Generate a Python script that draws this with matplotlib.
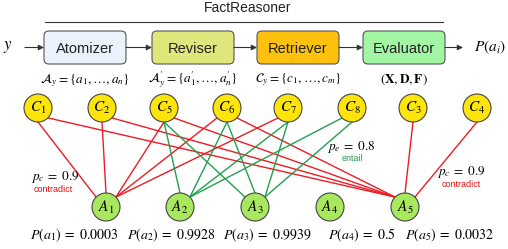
import matplotlib.pyplot as plt
from matplotlib.patches import Circle, FancyBboxPatch

plt.rcParams['mathtext.fontset'] = 'stix'
plt.rcParams['font.family'] = ['Liberation Sans', 'DejaVu Sans']

# pipeline stages
stages = ['Atomizer', 'Reviser', 'Retriever', 'Evaluator']
stage_notes = [r'$\mathcal{A}_y=\{a_1,\ldots,a_n\}$',
               r'$\mathcal{A}^{\prime}_y=\{a^{\prime}_1,\ldots,a^{\prime}_n\}$',
               r'$\mathcal{C}_y=\{c_1,\ldots,c_m\}$',
               r'$(\mathbf{X},\mathbf{D},\mathbf{F})$']
stage_colors = ['#eaf2fb', '#dfe67c', '#fec10e', '#a2f5a2']

# graph nodes
contexts = ['C1', 'C2', 'C5', 'C6', 'C7', 'C8', 'C3', 'C4']
atoms = ['A1', 'A2', 'A3', 'A4', 'A5']
probs = ['0.0003', '0.9928', '0.9939', '0.5', '0.0032']

# relations (context, atom)
contradict = [('C1', 'A1'), ('C2', 'A1'), ('C5', 'A1'), ('C6', 'A1'), ('C7', 'A1'),
              ('C1', 'A5'), ('C2', 'A5'), ('C5', 'A5'), ('C6', 'A5'),
              ('C3', 'A5'), ('C4', 'A5')]
entail = [('C5', 'A2'), ('C5', 'A3'), ('C6', 'A2'), ('C6', 'A3'),
          ('C7', 'A2'), ('C7', 'A3'), ('C8', 'A2'), ('C8', 'A3')]

# layout (pixel space)
W, H = 508, 249
R = 14
ctx_x = [38, 102, 164, 227, 288, 352, 413, 477]
atom_x = [106, 180, 255, 330, 405]
ctx_y, atom_y = 108, 207
box_x = [44, 152, 257, 363]
box_w, box_h, box_y = 82, 33, 31
prob_x = [74, 171, 267, 362, 449]

pos = {n: (x, ctx_y) for n, x in zip(contexts, ctx_x)}
pos.update({n: (x, atom_y) for n, x in zip(atoms, atom_x)})

fig = plt.figure(figsize=(W / 100, H / 100), dpi=100)
ax = fig.add_axes([0, 0, 1, 1])
ax.set_xlim(0, W)
ax.set_ylim(H, 0)
ax.axis('off')

# title
ax.text(248, 8, 'FactReasoner', ha='center', va='center', fontsize=10, color='#222')
ax.plot([45, 443], [22, 22], color='#333', lw=0.8)

arrow_kw = dict(arrowstyle='-|>', color='#333', lw=0.8, mutation_scale=8,
                shrinkA=0, shrinkB=0)

# pipeline boxes
for i, (name, note, col) in enumerate(zip(stages, stage_notes, stage_colors)):
    x0 = box_x[i]
    ax.add_patch(FancyBboxPatch((x0, box_y), box_w, box_h,
                                boxstyle='round,pad=0,rounding_size=5',
                                fc=col, ec='#555', lw=0.8))
    ax.text(x0 + box_w / 2, box_y + box_h / 2 + 1, name, ha='center', va='center',
            fontsize=10.5, color='#222')
    ax.text(x0 + box_w / 2, 80, note, ha='center', va='center', fontsize=9.5)
    if i < len(stages) - 1:
        ax.annotate('', xy=(box_x[i + 1], box_y + box_h / 2),
                    xytext=(x0 + box_w, box_y + box_h / 2), arrowprops=arrow_kw)

ax.text(8, 47, r'$y$', ha='center', va='center', fontsize=12)
ax.annotate('', xy=(box_x[0], 47.5), xytext=(25, 47.5), arrowprops=arrow_kw)
ax.annotate('', xy=(463, 47.5), xytext=(box_x[-1] + box_w, 47.5), arrowprops=arrow_kw)
ax.text(490, 47, r'$P(a_i)$', ha='center', va='center', fontsize=11)


def anchors(c, a):
    (cx, cy), (tx, ty) = pos[c], pos[a]
    dx = tx - cx
    d = R * 0.7071
    if dx > 150:
        p0 = (cx + d, cy + d)
    elif dx < -115:
        p0 = (cx - d, cy + d)
    else:
        p0 = (cx, cy + R)
    if abs(dx) < 30:
        p1 = (tx, ty - R)
    elif dx > 0:
        p1 = (tx - d, ty - d)
    else:
        p1 = (tx + d, ty - d)
    return p0, p1


for edges, col in [(contradict, '#ec1c24'), (entail, '#22a04e')]:
    for c, a in edges:
        p0, p1 = anchors(c, a)
        ax.plot([p0[0], p1[0]], [p0[1], p1[1]], color=col, lw=1.0, zorder=2)

for names, fc in [(contexts, '#fde40a'), (atoms, '#a8e85f')]:
    for n in names:
        x, y = pos[n]
        ax.add_patch(Circle((x, y), R, fc=fc, ec='#444', lw=0.8, zorder=3))
        ax.text(x, y, rf'${n[0]}_{n[1]}$', ha='center', va='center',
                fontsize=11, zorder=4)

for i, p in enumerate(probs):
    ax.text(prob_x[i], 235, rf'$P(a_{i + 1})\;=\;{p}$', ha='center', va='center',
            fontsize=10)

# annotations
ax.text(55, 177, r'$p_c\;=\;0.9$', ha='center', va='center', fontsize=9.5)
ax.text(53, 189, 'contradict', ha='center', va='center', fontsize=6.5, color='#e01010')
ax.text(351, 147, r'$p_e\;=\;0.8$', ha='center', va='center', fontsize=9.5)
ax.text(352, 158, 'entail', ha='center', va='center', fontsize=6.5, color='#22a04e')
ax.text(461, 172, r'$p_c\;=\;0.9$', ha='center', va='center', fontsize=9.5)
ax.text(461, 184, 'contradict', ha='center', va='center', fontsize=6.5, color='#e01010')

fig.savefig('out.png', dpi=100)
